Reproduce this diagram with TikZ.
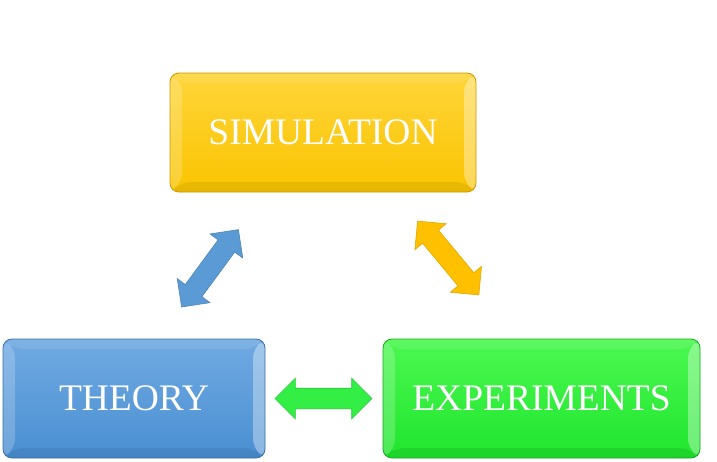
\documentclass[tikz,border=0pt]{standalone}
\usepackage{fontspec}
\setmainfont{Liberation Serif}
\usetikzlibrary{shapes.arrows,calc}
\definecolor{simtop}{HTML}{FFD53A}
\definecolor{simbot}{HTML}{FAC400}
\definecolor{simedge}{HTML}{C99A00}
\definecolor{thtop}{HTML}{70AAE2}
\definecolor{thbot}{HTML}{4A8FD2}
\definecolor{thedge}{HTML}{3A70A8}
\definecolor{extop}{HTML}{4CF850}
\definecolor{exbot}{HTML}{1FE52E}
\definecolor{exedge}{HTML}{18A820}
\definecolor{arrblue}{HTML}{5B9BD5}
\definecolor{arrgold}{HTML}{FFC000}
\definecolor{arrgreen}{HTML}{33EE44}
\tikzset{
  bevelbox/.style n args={3}{draw=#3, line width=0.8pt, rounded corners=9pt,
    top color=#1, bottom color=#2, text=white,
    font=\fontsize{37.5}{42}\selectfont, inner sep=0pt,
    path picture={
      \coordinate (nw) at (path picture bounding box.north west);
      \coordinate (ne) at (path picture bounding box.north east);
      \coordinate (sw) at (path picture bounding box.south west);
      \coordinate (se) at (path picture bounding box.south east);
      \fill[white,opacity=0.2] (nw) -- (sw) -- ($(sw)+(12,-10)$) -- ($(nw)+(12,10)$) -- cycle;
      \fill[white,opacity=0.35] (ne) -- (se) -- ($(se)+(-12,-10)$) -- ($(ne)+(-12,10)$) -- cycle;
      \fill[white,opacity=0.1] (nw) -- (ne) -- ($(ne)+(-12,10)$) -- ($(nw)+(12,10)$) -- cycle;
      \fill[black,opacity=0.07] (sw) -- (se) -- ($(se)+(-12,-10)$) -- ($(sw)+(12,-10)$) -- cycle;
    }},
  dblarrow/.style n args={2}{double arrow, fill=#1, draw=#2, line width=0.6pt,
    inner sep=10pt, double arrow head extend=10pt, double arrow tip angle=90,
    minimum height=96pt}
}
\begin{document}
\begin{tikzpicture}[x=1pt,y=-1pt]
\useasboundingbox (0,0) rectangle (717,461);
\node[bevelbox={simtop}{simbot}{simedge}, minimum width=306pt, minimum height=119pt] (sim) at (323,132.5) {SIMULATION};
\node[bevelbox={thtop}{thbot}{thedge}, minimum width=262pt, minimum height=119pt] (theory) at (134,398.5) {THEORY};
\node[bevelbox={extop}{exbot}{exedge}, minimum width=317pt, minimum height=119pt] (exp) at (541.5,398.5) {EXPERIMENTS};
\node[dblarrow={arrblue}{arrblue!85!black}, rotate=53.7] (ab) at (210,268.3) {};
\node[dblarrow={arrgold}{arrgold!88!black}, rotate=-50.3] (ag) at (448.2,258) {};
\node[dblarrow={arrgreen}{arrgreen!85!black}, minimum height=97pt] (ar) at (323.5,398.5) {};
\end{tikzpicture}
\end{document}
